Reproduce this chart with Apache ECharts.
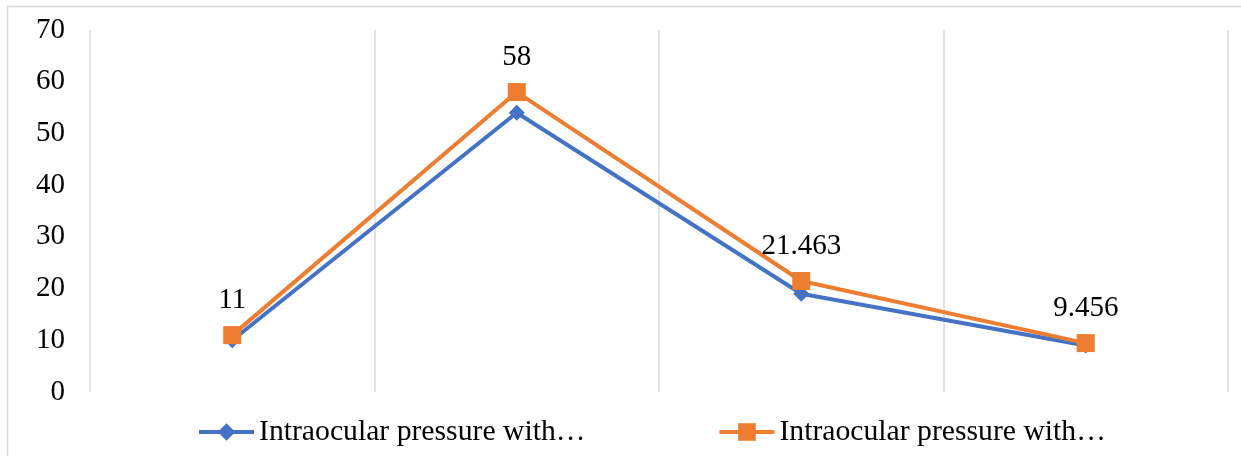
<!DOCTYPE html>
<html>
<head>
<meta charset="utf-8">
<script src="https://cdn.jsdelivr.net/npm/echarts@6/dist/echarts.min.js"></script>
<style>
  html, body { margin: 0; padding: 0; background: #fff; }
  #chart { width: 1241px; height: 456px; }
</style>
</head>
<body>
<div id="chart"></div>
<script>
// Four measurement points along the x axis (no tick labels are printed)
const categories = ['1', '2', '3', '4'];

// Series identifiers and the (truncated) legend captions shown for them
const seriesKeys = ['seriesA', 'seriesB'];
const legendLabels = ['Intraocular pressure with…', 'Intraocular pressure with…'];

// Values per series
const seriesAValues = [10, 54, 19, 9];
const seriesBValues = [11, 58, 21.463, 9.456];

// Y axis range
const yMin = 0;
const yMax = 70;
const yStep = 10;

const FONT = '"Liberation Serif", "Times New Roman", serif';
const BLUE = '#4472C4';
const ORANGE = '#ED7D31';
const GRID_GRAY = '#d9d9d9';

const chart = echarts.init(document.getElementById('chart'), null, { renderer: 'canvas' });

chart.setOption({
  animation: false,
  backgroundColor: '#fff',
  graphic: [{
    type: 'rect',
    shape: { x: 7.5, y: 6.5, width: 1250, height: 470 },
    style: { fill: 'none', stroke: GRID_GRAY, lineWidth: 1.5 },
    silent: true,
    z: -1
  }],
  grid: { left: 90, right: 13, top: 30, bottom: 64 },
  legend: {
    left: 192,
    top: 412,
    itemWidth: 55,
    itemHeight: 22,
    itemGap: 132,
    lineStyle: { width: 4 },
    textStyle: { fontFamily: FONT, fontSize: 29.7, color: '#000' },
    formatter: name => legendLabels[seriesKeys.indexOf(name)],
    data: seriesKeys
  },
  xAxis: {
    type: 'category',
    data: categories,
    boundaryGap: true,
    axisLine: { show: false },
    axisTick: { show: false },
    axisLabel: { show: false },
    splitLine: { show: true, lineStyle: { color: GRID_GRAY, width: 1.5 } }
  },
  yAxis: {
    type: 'value',
    min: yMin,
    max: yMax,
    interval: yStep,
    axisLine: { show: false },
    axisTick: { show: false },
    splitLine: { show: false },
    axisLabel: { margin: 25, fontFamily: FONT, fontSize: 29, color: '#000' }
  },
  series: [
    {
      name: seriesKeys[0],
      type: 'line',
      data: seriesAValues,
      symbol: 'diamond',
      symbolSize: 16,
      lineStyle: { color: BLUE, width: 4 },
      itemStyle: { color: BLUE },
      label: { show: false },
      z: 2
    },
    {
      name: seriesKeys[1],
      type: 'line',
      data: seriesBValues,
      symbol: 'rect',
      symbolSize: 18,
      lineStyle: { color: ORANGE, width: 4 },
      itemStyle: { color: ORANGE },
      label: {
        show: true,
        position: 'top',
        distance: 11,
        fontFamily: FONT,
        fontSize: 29,
        color: '#000'
      },
      z: 3
    }
  ]
});
</script>
</body>
</html>
